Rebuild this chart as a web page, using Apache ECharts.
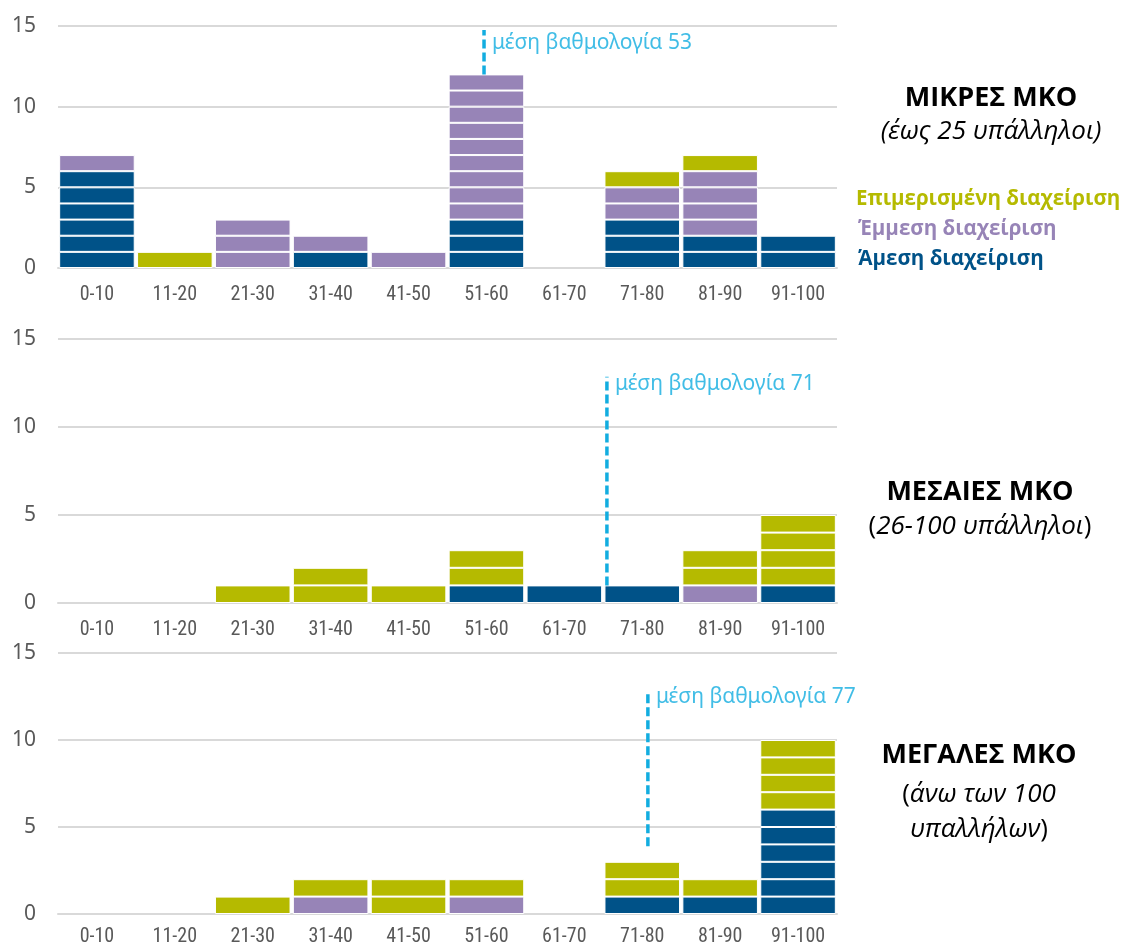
<!DOCTYPE html>
<html>
<head>
<meta charset="utf-8">
<script src="https://cdn.jsdelivr.net/npm/echarts@6/dist/echarts.min.js"></script>
<style>html,body{margin:0;padding:0;background:#fff;}#c{width:1121px;height:947px;}</style>
</head>
<body>
<div id="c"></div>
<script>
// ---- data ----
const categories = ['0-10','11-20','21-30','31-40','41-50','51-60','61-70','71-80','81-90','91-100'];
const yTicks = [0, 5, 10, 15];
const seriesNames = ['Άμεση διαχείριση', 'Έμμεση διαχείριση', 'Επιμερισμένη διαχείριση'];
// small NGOs
const smallDirect   = [6,0,0,1,0,3,0,3,2,2];
const smallIndirect = [1,0,3,1,1,9,0,2,4,0];
const smallShared   = [0,1,0,0,0,0,0,1,1,0];
// medium NGOs
const mediumDirect   = [0,0,0,0,0,1,1,1,0,1];
const mediumIndirect = [0,0,0,0,0,0,0,0,1,0];
const mediumShared   = [0,0,1,2,1,2,0,0,2,4];
// large NGOs
const largeDirect   = [0,0,0,0,0,0,0,1,1,6];
const largeIndirect = [0,0,0,1,0,1,0,0,0,0];
const largeShared   = [0,0,1,1,2,1,0,2,1,4];
// mean scores and dashed-line extents (in y units)
const meanScores   = [53, 71, 77];
const meanLineFrom = [12, 1, 3.9];
const meanLineTo   = [14.75, 12.85, 12.7];
const meanLabelY   = [13.95, 12.45, 12.45];

// ---- styles ----
const colors = ['#005288', '#9784b7', '#b5ba00'];
const meanColor = '#12ade0';
const panels = [
  [smallDirect, smallIndirect, smallShared],
  [mediumDirect, mediumIndirect, mediumShared],
  [largeDirect, largeIndirect, largeShared]
];
const grids = [
  {left: 58, right: 284, top: 26, height: 242},
  {left: 58, right: 284, top: 339, height: 264},
  {left: 58, right: 284, top: 653, height: 264}
];
const xLabelMargins = [17, 17, 13];

const xAxes = [], yAxes = [], series = [];
grids.forEach((g, i) => {
  xAxes.push({
    type: 'category', gridIndex: i, data: categories,
    axisTick: {show: false},
    axisLine: {lineStyle: {color: '#d9d9d9', width: 2}},
    axisLabel: {color: '#595959', fontSize: 20, margin: xLabelMargins[i], interval: 0,
      fontFamily: '"Liberation Sans Narrow", "Roboto Condensed", "Noto Sans", sans-serif'}
  });
  yAxes.push({
    type: 'value', gridIndex: i, min: yTicks[0], max: yTicks[yTicks.length-1], interval: 5,
    axisLine: {show: false}, axisTick: {show: false},
    splitLine: {lineStyle: {color: '#d9d9d9', width: 2}},
    axisLabel: {color: '#595959', fontSize: 21, margin: 22,
      fontFamily: '"Liberation Sans Narrow", "Noto Sans", sans-serif'}
  });
});
// hidden value axes for mean-score lines
grids.forEach((g, i) => {
  xAxes.push({type: 'value', gridIndex: i, min: -9.4, max: 104.7, show: false});
});

panels.forEach((layers, gi) => {
  layers.forEach((counts, li) => {
    const maxC = Math.max(...counts);
    for (let k = 1; k <= maxC; k++) {
      series.push({
        type: 'bar', name: seriesNames[li], stack: 'p' + gi,
        xAxisIndex: gi, yAxisIndex: gi,
        barCategoryGap: '3%',
        data: counts.map(c => c >= k ? 1 : '-'),
        itemStyle: {color: colors[li], borderColor: '#ffffff', borderWidth: 1},
        silent: true
      });
    }
  });
  series.push({
    type: 'line', xAxisIndex: 3 + gi, yAxisIndex: gi, silent: true,
    symbol: 'none',
    data: [[meanScores[gi], meanLineFrom[gi]], [meanScores[gi], meanLineTo[gi]]],
    lineStyle: {color: meanColor, width: 3.5, type: [9, 4]}
  });
  series.push({
    type: 'scatter', xAxisIndex: 3 + gi, yAxisIndex: gi, silent: true,
    symbolSize: 0,
    data: [[meanScores[gi], meanLabelY[gi]]],
    label: {show: true, position: 'right', distance: 8, color: meanColor, fontSize: 21,
      fontFamily: '"Noto Sans", "Open Sans", sans-serif',
      formatter: p => 'μέση βαθμολογία ' + p.value[0]}
  });
});

const titleFont = '"Open Sans", "Noto Sans", sans-serif';
const graphics = [
  {type: 'text', x: 991, y: 98, style: {text: 'ΜΙΚΡΕΣ ΜΚΟ', fill: '#000', font: 'bold 27px ' + titleFont, textAlign: 'center', textVerticalAlign: 'middle'}},
  {type: 'text', x: 991, y: 132, style: {text: '(έως 25 υπάλληλοι)', fill: '#000', font: 'italic 26px ' + titleFont, textAlign: 'center', textVerticalAlign: 'middle'}},
  {type: 'text', x: 856, y: 199, style: {text: seriesNames[2], fill: colors[2], font: 'bold 20.5px ' + titleFont, textAlign: 'left', textVerticalAlign: 'middle'}},
  {type: 'text', x: 858, y: 229, style: {text: seriesNames[1], fill: colors[1], font: 'bold 20.5px ' + titleFont, textAlign: 'left', textVerticalAlign: 'middle'}},
  {type: 'text', x: 858, y: 259, style: {text: seriesNames[0], fill: colors[0], font: 'bold 20.5px ' + titleFont, textAlign: 'left', textVerticalAlign: 'middle'}},
  {type: 'text', x: 980, y: 492, style: {text: 'ΜΕΣΑΙΕΣ ΜΚΟ', fill: '#000', font: 'bold 27px ' + titleFont, textAlign: 'center', textVerticalAlign: 'middle'}},
  {type: 'text', x: 980, y: 527, style: {text: '{n|(}{i|26-100 υπάλληλοι}{n|)}', textAlign: 'center', textVerticalAlign: 'middle',
    rich: {n: {fill: '#000', font: '26px ' + titleFont}, i: {fill: '#000', font: 'italic 26px ' + titleFont}}}},
  {type: 'text', x: 979, y: 755, style: {text: 'ΜΕΓΑΛΕΣ ΜΚΟ', fill: '#000', font: 'bold 27px ' + titleFont, textAlign: 'center', textVerticalAlign: 'middle'}},
  {type: 'text', x: 979, y: 795, style: {text: '{n|(}{i|άνω των 100}', textAlign: 'center', textVerticalAlign: 'middle',
    rich: {n: {fill: '#000', font: '26px ' + titleFont}, i: {fill: '#000', font: 'italic 26px ' + titleFont}}}},
  {type: 'text', x: 979, y: 830, style: {text: '{i|υπαλλήλων}{n|)}', textAlign: 'center', textVerticalAlign: 'middle',
    rich: {n: {fill: '#000', font: '26px ' + titleFont}, i: {fill: '#000', font: 'italic 26px ' + titleFont}}}}
];

const chart = echarts.init(document.getElementById('c'), null, {renderer: 'canvas'});
chart.setOption({
  animation: false,
  backgroundColor: '#ffffff',
  grid: grids,
  xAxis: xAxes,
  yAxis: yAxes,
  series: series,
  graphic: graphics
});
</script>
</body>
</html>
